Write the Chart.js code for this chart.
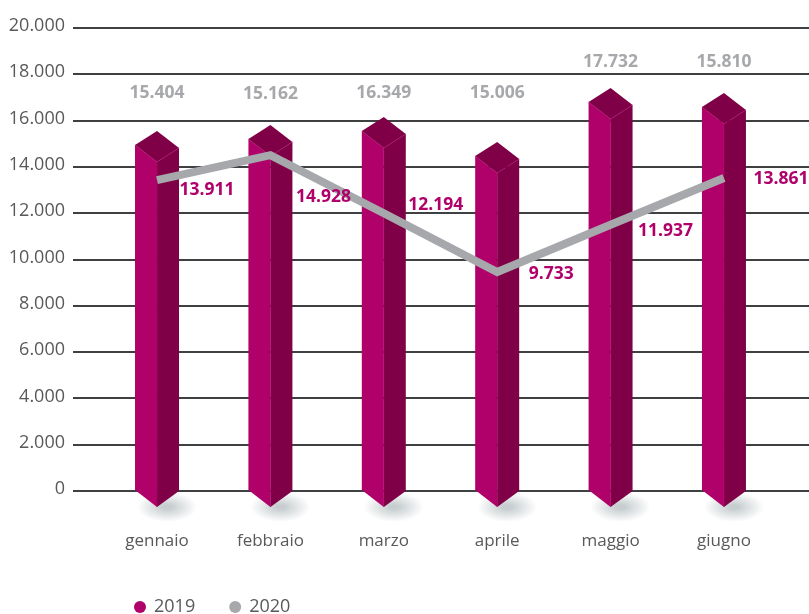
<!DOCTYPE html>
<html lang="it">
<head>
<meta charset="utf-8">
<title>2019 - 2020</title>
<script src="https://cdn.jsdelivr.net/npm/chart.js@4/dist/chart.umd.min.js"></script>
<style>
    html, body { margin: 0; padding: 0; background: #fff; }
    #wrap { width: 809px; height: 614px; }
</style>
</head>
<body>
<div id="wrap"><canvas id="chart" width="809" height="614"></canvas></div>
<script>
const months = ['gennaio', 'febbraio', 'marzo', 'aprile', 'maggio', 'giugno'];
// heights as actually drawn in the picture
const bars2019 = [14950, 15200, 15550, 14470, 16800, 16590];
const line2020 = [13430, 14510, 12000, 9460, 11500, 13520];
// figures printed on the picture
const labels2019 = ['15.404', '15.162', '16.349', '15.006', '17.732', '15.810'];
const labels2020 = ['13.911', '14.928', '12.194', '9.733', '11.937', '13.861'];

const MAGENTA = '#b0006a';
const DARK = '#800048';
const GREY = '#a7a8ab';
const TEXT = '#58595b';
const FONT = '"Open Sans", "Noto Sans", sans-serif';
const seriesColors = [MAGENTA, GREY];

// label placement relative to the mark
const barLabelDy = [-52, -45, -38, -63, -40, -45];
const lineLabelDx = [50, 53, 52, 54, 55, 57];
const lineLabelDy = [10, 42, -8, 2, 6, 1];

function face(ctx, points, color) {
    ctx.beginPath();
    points.forEach((p, i) => i ? ctx.lineTo(p[0], p[1]) : ctx.moveTo(p[0], p[1]));
    ctx.closePath();
    ctx.fillStyle = color;
    ctx.fill();
}

const prism = {
    id: 'prism',
    // soft shadow under each column
    beforeDatasetsDraw(chart) {
        const ctx = chart.ctx;
        chart.getDatasetMeta(0).data.forEach(bar => {
            ctx.save();
            ctx.translate(bar.x + 10, bar.base + 17);
            ctx.scale(1, 0.5);
            const g = ctx.createRadialGradient(0, 0, 4, 0, 0, 30);
            g.addColorStop(0, 'rgba(130,145,150,0.45)');
            g.addColorStop(1, 'rgba(130,145,150,0)');
            ctx.fillStyle = g;
            ctx.fillRect(-30, -30, 60, 60);
            ctx.restore();
        });
    },
    // the bars themselves are transparent, the faces are built on their geometry
    afterDatasetDraw(chart, args) {
        if (args.index !== 0) return;
        const ctx = chart.ctx;
        args.meta.data.forEach(bar => {
            const x = bar.x, top = bar.y, base = bar.base, hw = bar.width / 2;
            face(ctx, [[x - hw, top], [x, top + 17], [x, base + 17], [x - hw, base]], MAGENTA);
            face(ctx, [[x, top + 17], [x + hw, top + 3], [x + hw, base + 1], [x, base + 17]], DARK);
            face(ctx, [[x - hw, top], [x, top - 14], [x + hw, top + 3], [x, top + 17]], DARK);
            ctx.strokeStyle = 'rgba(176,0,106,0.7)';
            ctx.lineWidth = 0.7;
            ctx.beginPath();
            ctx.moveTo(x - hw, top);
            ctx.lineTo(x, top + 17);
            ctx.lineTo(x + hw, top + 3);
            ctx.moveTo(x, top + 17);
            ctx.lineTo(x, base + 17);
            ctx.stroke();
        });
    },
    afterDatasetsDraw(chart) {
        const ctx = chart.ctx;
        ctx.save();
        ctx.font = 'bold 17.5px ' + FONT;
        ctx.textAlign = 'center';
        ctx.textBaseline = 'middle';
        ctx.fillStyle = GREY;
        chart.getDatasetMeta(0).data.forEach((bar, i) => {
            ctx.fillText(labels2019[i], bar.x, bar.y + barLabelDy[i]);
        });
        ctx.fillStyle = MAGENTA;
        chart.getDatasetMeta(1).data.forEach((pt, i) => {
            ctx.fillText(labels2020[i], pt.x + lineLabelDx[i], pt.y + lineLabelDy[i]);
        });
        ctx.restore();
    },
    // legend sits left of centre, just above the bottom edge
    beforeDraw(chart) {
        chart.legend.left = 100;
        chart.legend.top = 563;
    }
};

new Chart(document.getElementById('chart'), {
    type: 'bar',
    plugins: [prism],
    data: {
        labels: months,
        datasets: [
            {
                label: '2019',
                data: bars2019.map((v, i) => ({ x: i, y: v })),
                backgroundColor: 'transparent',
                borderWidth: 0,
                barThickness: 44,
                order: 2
            },
            {
                type: 'line',
                label: '2020',
                data: line2020.map((v, i) => ({ x: i, y: v })),
                borderColor: GREY,
                backgroundColor: GREY,
                borderWidth: 8,
                tension: 0,
                pointRadius: 0,
                fill: false,
                order: 1
            }
        ]
    },
    options: {
        responsive: false,
        animation: false,
        layout: { padding: { top: 28, left: 0, right: 0, bottom: 0 } },
        plugins: {
            tooltip: { enabled: false },
            legend: {
                position: 'bottom',
                align: 'start',
                labels: {
                    usePointStyle: true,
                    boxWidth: 10,
                    boxHeight: 8.5,
                    padding: 35,
                    color: TEXT,
                    font: { family: FONT, size: 18 },
                    generateLabels: chart => chart.data.datasets.map((d, i) => ({
                        text: d.label,
                        fillStyle: seriesColors[i],
                        strokeStyle: seriesColors[i],
                        lineWidth: 0,
                        pointStyle: 'circle',
                        fontColor: TEXT,
                        datasetIndex: i
                    }))
                }
            }
        },
        scales: {
            x: {
                type: 'linear',
                offset: false,
                min: -0.741,
                max: 5.75,
                grid: { display: false },
                border: { display: false },
                afterBuildTicks: axis => { axis.ticks = months.map((m, i) => ({ value: i })); },
                afterFit: axis => { axis.height = 614 - 491 - axis.chart.legend.height; },
                ticks: {
                    padding: 32,
                    maxRotation: 0,
                    autoSkip: false,
                    color: TEXT,
                    font: { family: FONT, size: 17 },
                    callback: value => months[value]
                }
            },
            y: {
                min: 0,
                max: 20000,
                afterFit: axis => { axis.width = 73; },
                grid: { color: '#3f4042', lineWidth: 2, drawTicks: false },
                border: { display: false },
                ticks: {
                    stepSize: 2000,
                    padding: 8,
                    labelOffset: -2,
                    color: TEXT,
                    font: { family: FONT, size: 18 },
                    callback: value => String(value).replace(/\B(?=(\d{3})+$)/g, '.')
                }
            }
        }
    }
});
</script>
</body>
</html>
